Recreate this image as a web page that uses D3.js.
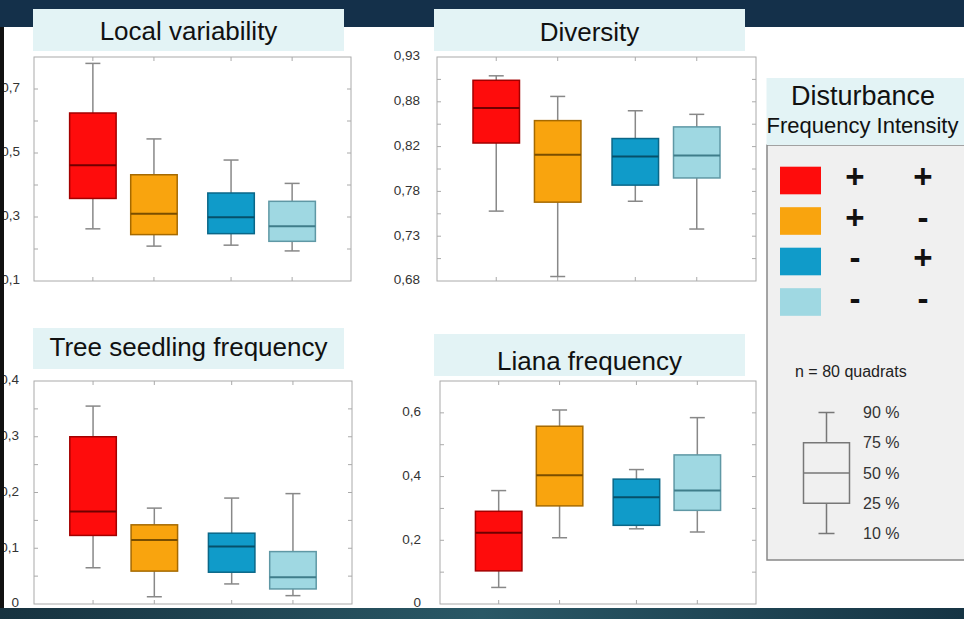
<!DOCTYPE html>
<html>
<head>
<meta charset="utf-8">
<script src="https://cdn.jsdelivr.net/npm/d3@7"></script>
<style>
  html, body { margin: 0; padding: 0; background: #fff; }
  svg { display: block; font-family: "Liberation Sans", Arial, sans-serif; }
</style>
</head>
<body>
<svg id="chart" width="964" height="619"></svg>
<script>
// groups: disturbance frequency / intensity
var frequency = ["+", "+", "-", "-"];
var intensity = ["+", "-", "+", "-"];
var fills = ["#fe0c0c", "#f9a40e", "#109bc9", "#9fd8e2"];
var edges = ["#a30000", "#a66a00", "#0a6788", "#5f98a5"];
var medians = ["#700000", "#7a4e00", "#06506a", "#3f7d8a"];

// each row: [10%, 25%, 50%, 75%, 90%]
var localVariability = [
  [0.263, 0.358, 0.462, 0.625, 0.780],
  [0.209, 0.245, 0.310, 0.432, 0.544],
  [0.212, 0.248, 0.299, 0.375, 0.478],
  [0.194, 0.224, 0.271, 0.349, 0.405]
];
var diversity = [
  [0.758, 0.834, 0.873, 0.904, 0.909],
  [0.685, 0.768, 0.821, 0.859, 0.886],
  [0.769, 0.787, 0.819, 0.839, 0.870],
  [0.738, 0.795, 0.820, 0.852, 0.866]
];
var treeSeedling = [
  [0.065, 0.123, 0.166, 0.300, 0.355],
  [0.013, 0.059, 0.115, 0.142, 0.172],
  [0.036, 0.057, 0.103, 0.127, 0.190],
  [0.015, 0.027, 0.048, 0.094, 0.198]
];
var liana = [
  [0.052, 0.104, 0.224, 0.291, 0.356],
  [0.208, 0.308, 0.404, 0.558, 0.609],
  [0.236, 0.247, 0.335, 0.392, 0.422],
  [0.226, 0.294, 0.356, 0.468, 0.585]
];

var localTicks = [0.1, 0.3, 0.5, 0.7];
var localLabels = ["0,1", "0,3", "0,5", "0,7"];
var diversityTicks = [0.68, 0.73, 0.78, 0.83, 0.88, 0.93];
var diversityLabels = ["0,68", "0,73", "0,78", "0,82", "0,88", "0,93"];
var seedlingTicks = [0, 0.1, 0.2, 0.3, 0.4];
var seedlingLabels = ["0", "0,1", "0,2", "0,3", "0,4"];
var lianaTicks = [0, 0.2, 0.4, 0.6];
var lianaLabels = ["0", "0,2", "0,4", "0,6"];

var legendPercent = ["10 %", "25 %", "50 %", "75 %", "90 %"];

var panels = [
  {title: "Local variability", data: localVariability, domain: [0.1, 0.8], minor: 0.1,
   ticks: localTicks, labels: localLabels, x0: 34, x1: 351, y0: 57, y1: 281, pad: 14,
   tb: [33, 9, 311, 42], base: 40},
  {title: "Diversity", data: diversity, domain: [0.68, 0.93], minor: 0.025,
   ticks: diversityTicks, labels: diversityLabels, x0: 437, x1: 756, y0: 57, y1: 281, pad: 17,
   tb: [434, 9, 311, 42], base: 40.5},
  {title: "Tree seedling frequency", data: treeSeedling, domain: [0, 0.4], minor: 0.05,
   ticks: seedlingTicks, labels: seedlingLabels, x0: 34, x1: 352, y0: 381, y1: 604, pad: 15,
   tb: [33, 328, 311, 41], base: 356},
  {title: "Liana frequency", data: liana, domain: [0, 0.7], minor: 0.1,
   ticks: lianaTicks, labels: lianaLabels, x0: 440, x1: 756, y0: 381, y1: 604, pad: 19,
   tb: [434, 334, 311, 42], base: 370}
];

var svg = d3.select("#chart");

// slide background
var defs = svg.append("defs");
var grad = defs.append("linearGradient").attr("id", "foot");
grad.append("stop").attr("offset", "0%").attr("stop-color", "#17323f");
grad.append("stop").attr("offset", "50%").attr("stop-color", "#2a5866");
grad.append("stop").attr("offset", "100%").attr("stop-color", "#163444");

svg.append("rect").attr("width", 964).attr("height", 619).attr("fill", "#fff");
svg.append("rect").attr("width", 964).attr("height", 27).attr("fill", "#14304a");
svg.append("rect").attr("y", 608).attr("width", 964).attr("height", 11).attr("fill", "url(#foot)");

var drawPanel = function(p) {
  var g = svg.append("g");
  var y = d3.scaleLinear().domain(p.domain).range([p.y1, p.y0]);
  var outer = d3.scalePoint().domain(["+", "-"]).range([p.x0, p.x1]).padding(0.647);
  var off = 0.221 * outer.step();
  var inner = d3.scalePoint().domain(["+", "-"]).range([-off, off]);
  var cx = function(i) { return outer(frequency[i]) + inner(intensity[i]); };
  var bw = 46.5, cap = 15;

  // title box
  g.append("rect")
    .attr("x", p.tb[0]).attr("y", p.tb[1]).attr("width", p.tb[2]).attr("height", p.tb[3])
    .attr("fill", "#e3f3f5");
  g.append("text")
    .attr("x", p.tb[0] + p.tb[2] / 2).attr("y", p.base)
    .attr("text-anchor", "middle")
    .attr("font-size", 26).attr("fill", "#111")
    .text(p.title);

  // frame
  g.append("rect")
    .attr("x", p.x0).attr("y", p.y0).attr("width", p.x1 - p.x0).attr("height", p.y1 - p.y0)
    .attr("fill", "#fff").attr("stroke", "#aaa").attr("stroke-width", 1);

  var minor = d3.range(p.domain[0] + p.minor, p.domain[1] - p.minor / 2, p.minor);
  g.selectAll(".ml").data(minor).enter().append("line")
    .attr("x1", p.x0).attr("x2", p.x0 + 4)
    .attr("y1", function(d) { return y(d); }).attr("y2", function(d) { return y(d); })
    .attr("stroke", "#aaa");
  g.selectAll(".mr").data(minor).enter().append("line")
    .attr("x1", p.x1).attr("x2", p.x1 - 4)
    .attr("y1", function(d) { return y(d); }).attr("y2", function(d) { return y(d); })
    .attr("stroke", "#aaa");
  g.selectAll(".xt").data(p.data).enter().append("line")
    .attr("x1", function(d, i) { return cx(i); }).attr("x2", function(d, i) { return cx(i); })
    .attr("y1", p.y1).attr("y2", p.y1 - 4).attr("stroke", "#aaa");
  g.selectAll(".xb").data(p.data).enter().append("line")
    .attr("x1", function(d, i) { return cx(i); }).attr("x2", function(d, i) { return cx(i); })
    .attr("y1", p.y0).attr("y2", p.y0 + 4).attr("stroke", "#aaa");

  // tick labels
  g.selectAll(".lab").data(p.ticks).enter().append("text")
    .attr("x", p.x0 - p.pad)
    .attr("y", function(d) { return y(d); })
    .attr("dy", "0.25em")
    .attr("text-anchor", "end")
    .attr("font-size", 13.5).attr("fill", "#333")
    .text(function(d, i) { return p.labels[i]; });

  // boxes
  var b = g.selectAll(".box").data(p.data).enter().append("g");
  b.append("line")
    .attr("x1", function(d, i) { return cx(i); }).attr("x2", function(d, i) { return cx(i); })
    .attr("y1", function(d) { return y(d[0]); }).attr("y2", function(d) { return y(d[4]); })
    .attr("stroke", "#888").attr("stroke-width", 1.5);
  b.append("line")
    .attr("x1", function(d, i) { return cx(i) - cap / 2; }).attr("x2", function(d, i) { return cx(i) + cap / 2; })
    .attr("y1", function(d) { return y(d[0]); }).attr("y2", function(d) { return y(d[0]); })
    .attr("stroke", "#888").attr("stroke-width", 1.5);
  b.append("line")
    .attr("x1", function(d, i) { return cx(i) - cap / 2; }).attr("x2", function(d, i) { return cx(i) + cap / 2; })
    .attr("y1", function(d) { return y(d[4]); }).attr("y2", function(d) { return y(d[4]); })
    .attr("stroke", "#888").attr("stroke-width", 1.5);
  b.append("rect")
    .attr("x", function(d, i) { return cx(i) - bw / 2; })
    .attr("y", function(d) { return y(d[3]); })
    .attr("width", bw)
    .attr("height", function(d) { return y(d[1]) - y(d[3]); })
    .attr("fill", function(d, i) { return fills[i]; })
    .attr("stroke", function(d, i) { return edges[i]; }).attr("stroke-width", 1.5);
  b.append("line")
    .attr("x1", function(d, i) { return cx(i) - bw / 2; }).attr("x2", function(d, i) { return cx(i) + bw / 2; })
    .attr("y1", function(d) { return y(d[2]); }).attr("y2", function(d) { return y(d[2]); })
    .attr("stroke", function(d, i) { return medians[i]; }).attr("stroke-width", 2);
};

panels.forEach(drawPanel);

// left edge of the slide
svg.append("rect").attr("x", 0).attr("y", 27).attr("width", 4).attr("height", 581).attr("fill", "#111");

// legend
var lg = svg.append("g");
lg.append("rect").attr("x", 767).attr("y", 145).attr("width", 210).attr("height", 415)
  .attr("fill", "#f0f0f0").attr("stroke", "#888").attr("stroke-width", 1.5);
lg.append("rect").attr("x", 766.5).attr("y", 78).attr("width", 200).attr("height", 67)
  .attr("fill", "#e3f3f5");
lg.append("text").attr("x", 863).attr("y", 105).attr("text-anchor", "middle")
  .attr("font-size", 27).attr("fill", "#111").text("Disturbance");
lg.append("text").attr("x", 862.5).attr("y", 133).attr("text-anchor", "middle")
  .attr("font-size", 22).attr("fill", "#111").text("Frequency Intensity");

var rows = d3.scalePoint().domain(d3.range(fills.length)).range([180.5, 302]);
lg.selectAll(".sw").data(fills).enter().append("rect")
  .attr("x", 780).attr("y", function(d, i) { return rows(i) - 13.8; })
  .attr("width", 41).attr("height", 27.6)
  .attr("fill", function(d) { return d; });
lg.selectAll(".fq").data(frequency).enter().append("text")
  .attr("x", 855).attr("y", function(d, i) { return rows(i) - 4; })
  .attr("dy", "0.35em").attr("text-anchor", "middle")
  .attr("font-size", 33).attr("font-weight", "bold").attr("fill", "#111")
  .text(function(d) { return d; });
lg.selectAll(".it").data(intensity).enter().append("text")
  .attr("x", 923).attr("y", function(d, i) { return rows(i) - 4; })
  .attr("dy", "0.35em").attr("text-anchor", "middle")
  .attr("font-size", 33).attr("font-weight", "bold").attr("fill", "#111")
  .text(function(d) { return d; });

lg.append("text").attr("x", 795).attr("y", 377)
  .attr("font-size", 16).attr("fill", "#222").text("n = 80 quadrats");

var py = d3.scalePoint().domain(legendPercent).range([533.5, 412.5]);
var kx = 826.5;
var ks = "#777";
lg.append("line").attr("x1", kx).attr("x2", kx)
  .attr("y1", py("10 %")).attr("y2", py("90 %")).attr("stroke", ks).attr("stroke-width", 1.5);
lg.selectAll(".kc").data(["10 %", "90 %"]).enter().append("line")
  .attr("x1", kx - 8).attr("x2", kx + 8)
  .attr("y1", function(d) { return py(d); }).attr("y2", function(d) { return py(d); })
  .attr("stroke", ks).attr("stroke-width", 1.5);
lg.append("rect").attr("x", kx - 23).attr("y", py("75 %"))
  .attr("width", 46).attr("height", py("25 %") - py("75 %"))
  .attr("fill", "#f0f0f0").attr("stroke", ks).attr("stroke-width", 1.5);
lg.append("line").attr("x1", kx - 23).attr("x2", kx + 23)
  .attr("y1", py("50 %")).attr("y2", py("50 %")).attr("stroke", ks).attr("stroke-width", 1.5);
lg.selectAll(".pl").data(legendPercent).enter().append("text")
  .attr("x", 863).attr("y", function(d) { return py(d); })
  .attr("dy", "0.35em").attr("font-size", 16).attr("fill", "#333")
  .text(function(d) { return d; });
</script>
</body>
</html>
